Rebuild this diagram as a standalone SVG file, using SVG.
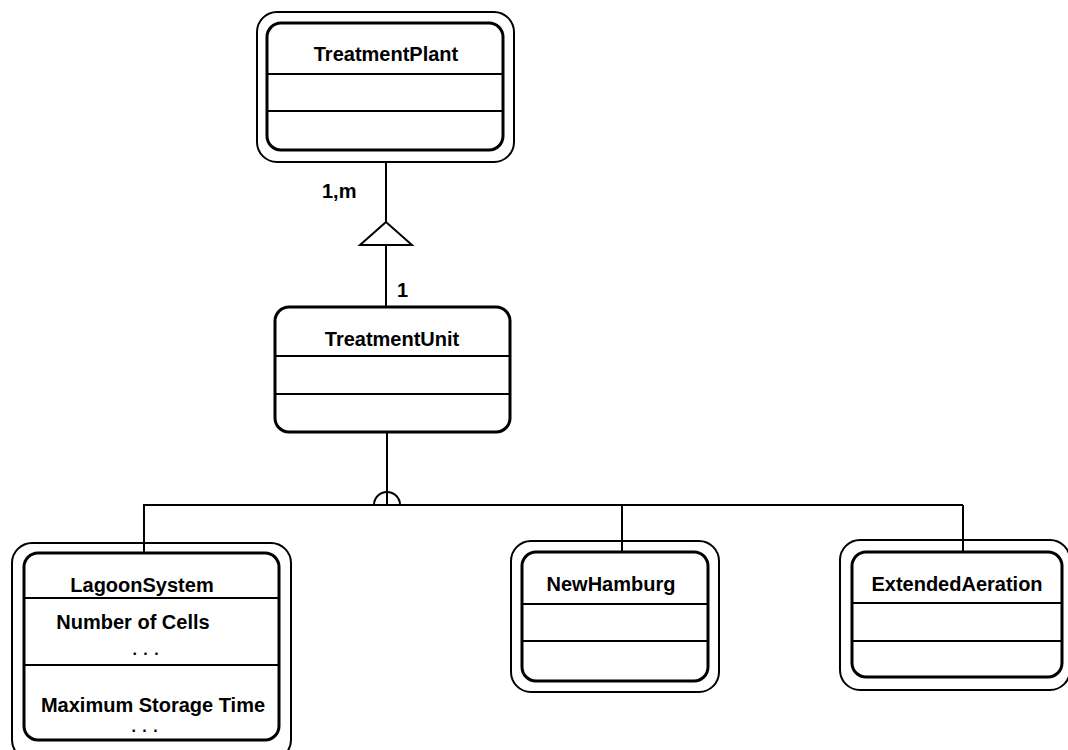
<svg xmlns="http://www.w3.org/2000/svg" width="1068" height="750" viewBox="0 0 1068 750">
<style>
.outer{fill:none;stroke:#000;stroke-width:2}
.inner{fill:none;stroke:#000;stroke-width:3}
.div{stroke:#000;stroke-width:2}
.ln{stroke:#000;stroke-width:2;fill:none}
text{font-family:"Liberation Sans",Arial,sans-serif;font-weight:bold;font-size:20px;fill:#000}
.c{text-anchor:middle}
.dots{font-size:16px;letter-spacing:1px}
</style>
<rect width="1068" height="750" fill="#fff"/>
<g id="connectors">
<line class="ln" x1="386" y1="162" x2="386" y2="307"/>
<polygon points="386,222 360,245 412,245" fill="#fff" stroke="#000" stroke-width="2"/>
<line class="ln" x1="387" y1="432" x2="387" y2="505"/>
<path class="ln" d="M374,505 A13,13 0 0 1 400,505"/>
<line class="ln" x1="143" y1="505" x2="963" y2="505"/>
<line class="ln" x1="144" y1="505" x2="144" y2="553"/>
<line class="ln" x1="622" y1="505" x2="622" y2="552"/>
<line class="ln" x1="963" y1="505" x2="963" y2="552"/>
<text x="322" y="198">1,m</text>
<text x="397" y="297">1</text>
</g>
<g id="TreatmentPlant">
<rect class="outer" x="257" y="12" width="257" height="150" rx="20"/>
<rect class="inner" x="267" y="23" width="236" height="127" rx="14"/>
<line class="div" x1="267" y1="74" x2="503" y2="74"/>
<line class="div" x1="267" y1="111" x2="503" y2="111"/>
<text class="c" x="386" y="61">TreatmentPlant</text>
</g>
<g id="TreatmentUnit">
<rect class="inner" x="275" y="307" width="235" height="125" rx="14"/>
<line class="div" x1="275" y1="356" x2="510" y2="356"/>
<line class="div" x1="275" y1="394" x2="510" y2="394"/>
<text class="c" x="392" y="346">TreatmentUnit</text>
</g>
<g id="LagoonSystem">
<rect class="outer" x="12" y="543" width="279" height="217" rx="20"/>
<rect class="inner" x="24" y="553" width="255" height="187" rx="14"/>
<line class="div" x1="24" y1="598" x2="279" y2="598"/>
<line class="div" x1="24" y1="665" x2="279" y2="665"/>
<text class="c" x="142" y="592">LagoonSystem</text>
<text class="c" x="133" y="629">Number of Cells</text>
<text class="c dots" x="146" y="655">. . .</text>
<text class="c" x="153" y="712">Maximum Storage Time</text>
<text class="c dots" x="145" y="732">. . .</text>
</g>
<g id="NewHamburg">
<rect class="outer" x="511" y="541" width="208" height="151" rx="20"/>
<rect class="inner" x="522" y="552" width="186" height="129" rx="14"/>
<line class="div" x1="522" y1="604" x2="708" y2="604"/>
<line class="div" x1="522" y1="641" x2="708" y2="641"/>
<text class="c" x="611" y="591">NewHamburg</text>
</g>
<g id="ExtendedAeration">
<rect class="outer" x="840" y="540" width="230" height="150" rx="20"/>
<rect class="inner" x="852" y="552" width="210" height="125" rx="14"/>
<line class="div" x1="852" y1="603" x2="1062" y2="603"/>
<line class="div" x1="852" y1="641" x2="1062" y2="641"/>
<text class="c" x="957" y="591">ExtendedAeration</text>
</g>
</svg>
